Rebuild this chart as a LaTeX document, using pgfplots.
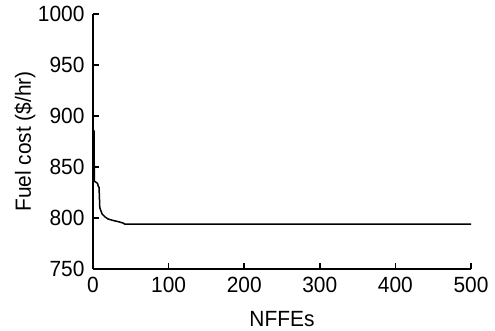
\documentclass[border=0pt]{standalone}
\usepackage{fontspec}
\setmainfont{Liberation Sans}[FakeStretch=0.95]
\usepackage{pgfplots}
\pgfplotsset{compat=1.18}
\begin{document}
\begin{tikzpicture}
\begin{axis}[
  name=ax,
  scale only axis,
  width=378pt, height=255pt,
  xmin=0, xmax=500, ymin=750, ymax=1000,
  xtick={0,100,...,500},
  ytick={750,800,...,1000},
  axis x line*=bottom, axis y line*=left,
  axis line style={line width=1.7pt, -},
  tick style={line width=1.5pt, black},
  tick align=inside,
  major tick length=6pt,
  every tick label/.append style={font=\fontsize{22}{26}\selectfont},
  /pgf/number format/assume math mode=true,
  /pgf/number format/1000 sep={},
  xlabel={NFFEs},
  ylabel={Fuel cost (\$/hr)},
  xlabel style={font=\fontsize{22}{26}\selectfont, at={(axis description cs:0.5,-0.196)}, anchor=center},
  ylabel style={font=\fontsize{22}{26}\selectfont, at={(axis description cs:-0.18,0.5)}, anchor=center},
  yticklabel style={xshift=-5pt},
  xticklabel style={yshift=-5pt},
]
\addplot[black, line width=1.5pt] coordinates {
(1.5,886) (1.7,842) (2,836) (6,834) (7,831) (8,830) (9,810) (12,804) (16,801) (20,799) (27,797.5) (33,796.5) (40,795) (42,794) (500,794)
};
\end{axis}
\pgfresetboundingbox
\path (ax.south west) ++(-93pt,-62pt) rectangle ++(495pt,331pt);
\end{tikzpicture}
\end{document}
